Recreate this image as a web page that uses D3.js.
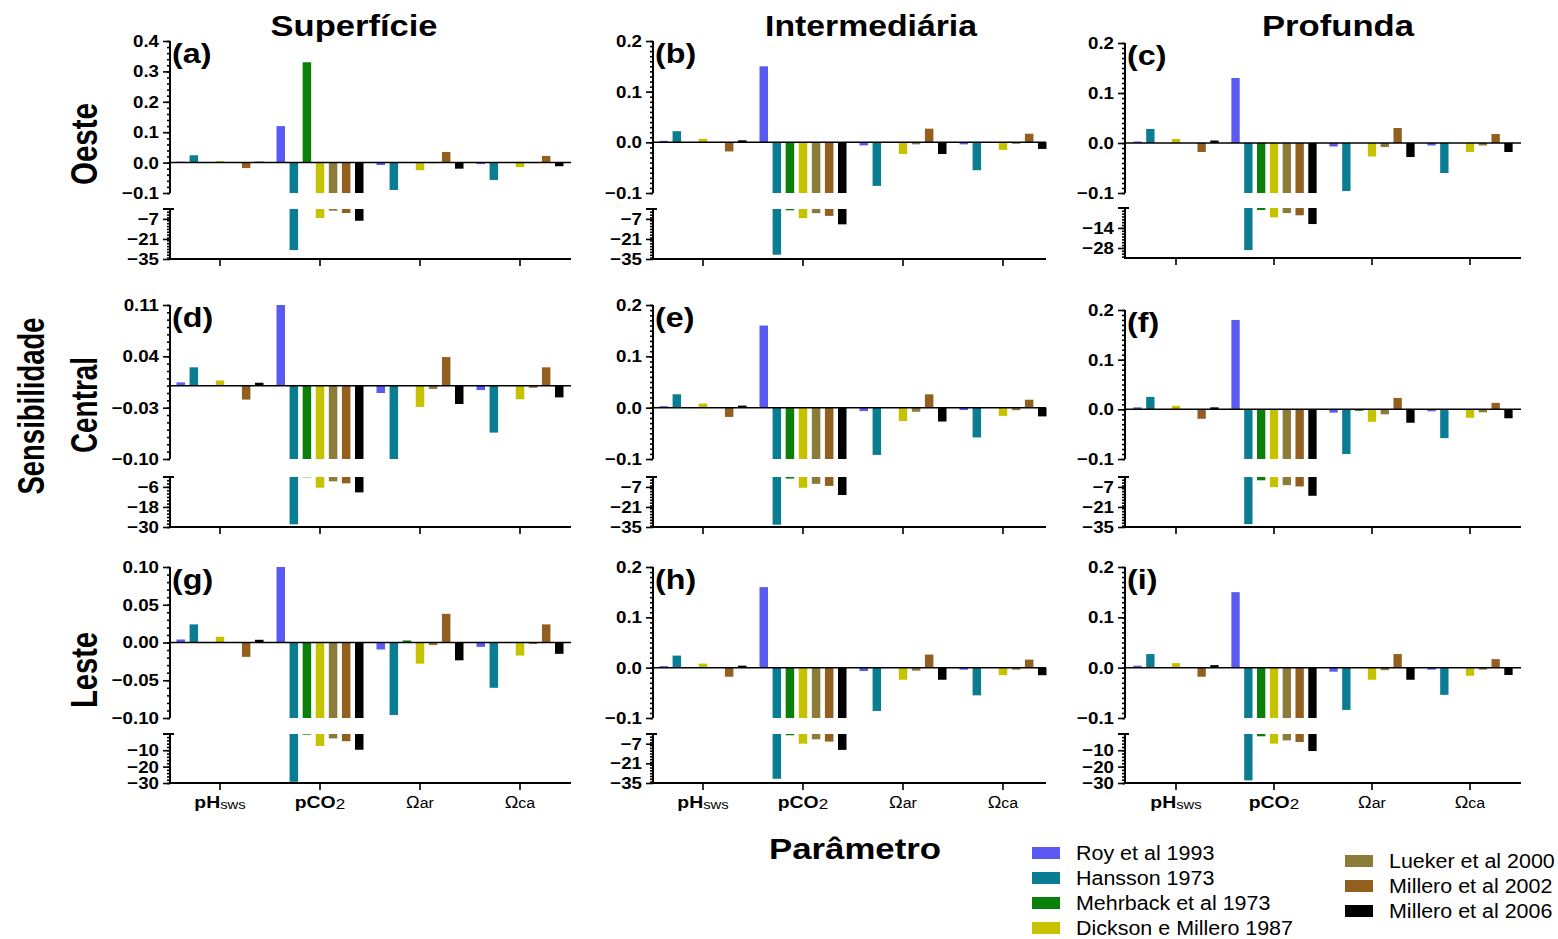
<!DOCTYPE html>
<html>
<head>
<meta charset="utf-8">
<script src="https://cdn.jsdelivr.net/npm/d3@7"></script>
<style>
  body { margin: 0; background: #fff; }
  svg { font-family: "Liberation Sans", Arial, sans-serif; }
</style>
</head>
<body>
<script>
// series, groups and colours
const series = ["Roy et al 1993", "Hansson 1973", "Mehrback et al 1973", "Dickson e Millero 1987",
                "Lueker et al 2000", "Millero et al 2002", "Millero et al 2006"];
const colors = ["#5a5af2", "#0b7d93", "#0a800a", "#c6c200", "#8b7c3a", "#935f1f", "#000000"];
const groups = ["pH", "pCO2", "Oar", "Oca"];
const columnTitles = ["Superfície", "Intermediária", "Profunda"];
const rowTitles = ["Oeste", "Central", "Leste"];

// values per panel: one row per series, columns = pHsws, pCO2, Ωar, Ωca
const panelA = [
    [0.003, 0.12, -0.008, -0.005],
    [0.024, -28.8, -0.09, -0.057],
    [0, 0.33, 0, 0],
    [0.005, -6.4, -0.025, -0.015],
    [0, -1.3, -0.002, -0.002],
    [-0.018, -2.9, 0.035, 0.022],
    [0.003, -8.3, -0.02, -0.012]];
const panelB = [
    [0.003, 0.15, -0.006, -0.004],
    [0.022, -32, -0.086, -0.055],
    [0, -1, 0, 0],
    [0.007, -6.5, -0.023, -0.015],
    [0, -3, -0.004, -0.003],
    [-0.018, -4.9, 0.027, 0.017],
    [0.004, -10.8, -0.023, -0.013]];
const panelC = [
    [0.003, 0.13, -0.007, -0.005],
    [0.028, -29.5, -0.096, -0.06],
    [0, -1.5, 0, 0],
    [0.008, -6.6, -0.027, -0.018],
    [0, -3.6, -0.008, -0.005],
    [-0.018, -5.2, 0.03, 0.018],
    [0.005, -11.3, -0.028, -0.018]];
const panelD = [
    [0.0045, 0.11, -0.01, -0.006],
    [0.025, -28.4, -0.1, -0.064],
    [0, -0.3, 0, 0],
    [0.007, -6.5, -0.029, -0.0185],
    [0, -2.7, -0.0045, -0.003],
    [-0.019, -3.9, 0.039, 0.025],
    [0.004, -9.3, -0.025, -0.016]];
const panelE = [
    [0.003, 0.16, -0.0066, -0.0047],
    [0.026, -33.4, -0.092, -0.058],
    [0, -1.2, 0, 0],
    [0.008, -7.6, -0.026, -0.016],
    [0, -4.9, -0.008, -0.005],
    [-0.018, -6.3, 0.026, 0.0155],
    [0.004, -12.7, -0.027, -0.017]];
const panelF = [
    [0.004, 0.18, -0.0067, -0.004],
    [0.025, -33, -0.09, -0.058],
    [0, -2.4, -0.003, 0],
    [0.007, -7.2, -0.025, -0.017],
    [0, -5.8, -0.01, -0.006],
    [-0.019, -6.7, 0.023, 0.013],
    [0.004, -13.2, -0.027, -0.018]];
const panelG = [
    [0.004, 0.10, -0.0093, -0.0058],
    [0.024, -29.3, -0.096, -0.06],
    [0, -0.5, 0.0027, 0],
    [0.0076, -7.4, -0.028, -0.0173],
    [0, -2.8, -0.0035, -0.002],
    [-0.019, -4.5, 0.038, 0.024],
    [0.0036, -9.7, -0.0236, -0.015]];
const panelH = [
    [0.003, 0.16, -0.0067, -0.004],
    [0.024, -32, -0.086, -0.055],
    [0, -1, 0, 0],
    [0.008, -7, -0.024, -0.015],
    [0, -3.9, -0.006, -0.004],
    [-0.018, -5.5, 0.026, 0.016],
    [0.004, -11.4, -0.024, -0.015]];
const panelI = [
    [0.004, 0.15, -0.008, -0.004],
    [0.027, -28.4, -0.084, -0.054],
    [0, -1.5, 0, 0],
    [0.009, -6, -0.024, -0.016],
    [0, -4, -0.005, -0.004],
    [-0.018, -5, 0.027, 0.017],
    [0.005, -10.5, -0.024, -0.0145]];

// tick labels
const ticksA = [0.4, 0.3, 0.2, 0.1, 0.0, -0.1];
const ticks02 = [0.2, 0.1, 0.0, -0.1];
const ticksD = [0.11, 0.04, -0.03, -0.10];
const ticksG = [0.10, 0.05, 0.00, -0.05, -0.10];
const lowTicks35 = [-7, -21, -35];
const lowTicks28 = [-14, -28];
const lowTicks30a = [-6, -18, -30];
const lowTicks30b = [-10, -20, -30];

// layout
const cols = [
    { x0: 170, band: 170, step: 100, x1: 571 },
    { x0: 653, band: 653, step: 100, x1: 1046 },
    { x0: 1125, band: 1127, step: 98, x1: 1521 }];
const rows = [
    { top: 41, ub: 193, lt: 209, lb: 259 },
    { top: 305, ub: 459, lt: 477, lb: 527 },
    { top: 567, ub: 718, lt: 734, lb: 783 }];

const panels = [
    { label: "(a)", r: 0, c: 0, data: panelA, up: [-0.1, 0.4], ticks: ticksA, minor: 0.02, fmt: ".1f", low: [-35, -0.1], lowTicks: lowTicks35 },
    { label: "(b)", r: 0, c: 1, data: panelB, up: [-0.1, 0.2], ticks: ticks02, minor: 0.01, fmt: ".1f", low: [-35, -0.1], lowTicks: lowTicks35 },
    { label: "(c)", r: 0, c: 2, data: panelC, up: [-0.1, 0.2], ticks: ticks02, minor: 0.01, fmt: ".1f", low: [-35, -0.1], lowTicks: lowTicks28, top: 43, lt: 208, lb: 258 },
    { label: "(d)", r: 1, c: 0, data: panelD, up: [-0.1, 0.11], ticks: ticksD, minor: 0.01, fmt: ".2f", low: [-30, -0.1], lowTicks: lowTicks30a },
    { label: "(e)", r: 1, c: 1, data: panelE, up: [-0.1, 0.2], ticks: ticks02, minor: 0.01, fmt: ".1f", low: [-35, -0.1], lowTicks: lowTicks35 },
    { label: "(f)", r: 1, c: 2, data: panelF, up: [-0.1, 0.2], ticks: ticks02, minor: 0.01, fmt: ".1f", low: [-35, -0.1], lowTicks: lowTicks35, top: 310 },
    { label: "(g)", r: 2, c: 0, data: panelG, up: [-0.1, 0.1], ticks: ticksG, minor: 0.01, fmt: ".2f", low: [-30, -0.1], lowTicks: lowTicks30b },
    { label: "(h)", r: 2, c: 1, data: panelH, up: [-0.1, 0.2], ticks: ticks02, minor: 0.01, fmt: ".1f", low: [-35, -0.1], lowTicks: lowTicks35 },
    { label: "(i)", r: 2, c: 2, data: panelI, up: [-0.1, 0.2], ticks: ticks02, minor: 0.01, fmt: ".1f", low: [-30, -0.1], lowTicks: lowTicks30b }];

const svg = d3.select("body").append("svg")
    .attr("width", 1558)
    .attr("height", 939);

// widen text horizontally (the original uses a broader font)
function stretch(sel, factor) {
    sel.each(function () {
        const w = this.getComputedTextLength();
        d3.select(this)
            .attr("textLength", w * factor)
            .attr("lengthAdjust", "spacingAndGlyphs");
    });
}

function minorValues(lo, hi, step) {
    const n = Math.round((hi - lo) / step);
    return d3.range(n + 1).map(i => +(lo + i * step).toFixed(4));
}

function styleAxis(g) {
    g.selectAll("path.domain").remove();
    g.selectAll(".tick line").attr("stroke", "#000").attr("stroke-width", 1.6);
    g.selectAll(".tick text")
        .attr("font-size", 17)
        .attr("font-weight", "bold")
        .attr("fill", "#000");
    stretch(g.selectAll(".tick text"), 1.1);
}

panels.forEach(p => {
    const col = cols[p.c];
    const row = rows[p.r];
    const top = p.top || row.top;
    const lt = p.lt || row.lt;
    const lb = p.lb || row.lb;
    const g = svg.append("g");

    const yU = d3.scaleLinear().domain(p.up).range([row.ub, top]);
    const yL = d3.scaleLinear().domain(p.low).range([lb, lt]);
    const x0 = d3.scaleBand().domain(groups).range([col.band, col.band + 4 * col.step]);
    const inner = col.step * 0.87;
    const x1 = d3.scaleBand().domain(d3.range(series.length)).range([0, inner]).paddingInner(0.35);
    const off = (col.step - inner) / 2;

    // bars
    groups.forEach((grp, gi) => {
        series.forEach((s, si) => {
            const v = p.data[si][gi];
            const bx = x0(grp) + off + x1(si);
            const vu = Math.max(Math.min(v, p.up[1]), p.up[0]);
            if (vu !== 0) {
                g.append("rect")
                    .attr("x", bx)
                    .attr("width", x1.bandwidth())
                    .attr("y", Math.min(yU(vu), yU(0)))
                    .attr("height", Math.abs(yU(vu) - yU(0)))
                    .attr("fill", colors[si]);
            }
            if (v < p.low[1]) {
                g.append("rect")
                    .attr("x", bx)
                    .attr("width", x1.bandwidth())
                    .attr("y", yL(p.low[1]))
                    .attr("height", yL(v) - yL(p.low[1]))
                    .attr("fill", colors[si]);
            }
        });
    });

    // zero line
    g.append("line")
        .attr("x1", col.x0).attr("x2", col.x1)
        .attr("y1", yU(0)).attr("y2", yU(0))
        .attr("stroke", "#000").attr("stroke-width", 1.5);

    // upper y axis
    g.append("g").attr("transform", `translate(${col.x0},0)`)
        .call(d3.axisLeft(yU).tickValues(minorValues(p.up[0], p.up[1], p.minor)).tickSize(3).tickFormat(""))
        .call(styleAxis);
    g.append("g").attr("transform", `translate(${col.x0},0)`)
        .call(d3.axisLeft(yU).tickValues(p.ticks).tickSize(7).tickPadding(4).tickFormat(d3.format(p.fmt)))
        .call(styleAxis);
    g.append("line")
        .attr("x1", col.x0).attr("x2", col.x0)
        .attr("y1", top).attr("y2", row.ub)
        .attr("stroke", "#000").attr("stroke-width", 2);

    // lower y axis
    g.append("g").attr("transform", `translate(${col.x0},0)`)
        .call(d3.axisLeft(yL).tickValues(d3.range(-2, p.low[0] - 1, -2).filter(v => v >= p.low[0])).tickSize(3).tickFormat(""))
        .call(styleAxis);
    g.append("g").attr("transform", `translate(${col.x0},0)`)
        .call(d3.axisLeft(yL).tickValues(p.lowTicks).tickSize(7).tickPadding(4).tickFormat(d3.format("d")))
        .call(styleAxis);
    g.append("line")
        .attr("x1", col.x0).attr("x2", col.x0)
        .attr("y1", lt).attr("y2", lb)
        .attr("stroke", "#000").attr("stroke-width", 2);
    g.append("line")
        .attr("x1", col.x0 - 7).attr("x2", col.x0 + 4)
        .attr("y1", lt).attr("y2", lt)
        .attr("stroke", "#000").attr("stroke-width", 2);

    // bottom x axis
    const xa = g.append("g").attr("transform", `translate(0,${lb})`)
        .call(d3.axisBottom(x0).tickSize(7).tickFormat(""));
    styleAxis(xa);
    g.append("line")
        .attr("x1", col.x0 - 1).attr("x2", col.x1)
        .attr("y1", lb).attr("y2", lb)
        .attr("stroke", "#000").attr("stroke-width", 2);

    if (p.r === 2) {
        const lab = g.append("g").attr("font-size", 17).attr("fill", "#000");
        const t1 = lab.append("text").attr("x", x0("pH") + col.step / 2).attr("y", 808).attr("text-anchor", "middle");
        t1.append("tspan").attr("font-weight", "bold").text("pH");
        t1.append("tspan").attr("font-size", 13).attr("dy", 1).text("sws");
        const t2 = lab.append("text").attr("x", x0("pCO2") + col.step / 2).attr("y", 808).attr("text-anchor", "middle");
        t2.append("tspan").attr("font-weight", "bold").text("pCO");
        t2.append("tspan").attr("font-size", 15).attr("dy", 1).text("2");
        const t3 = lab.append("text").attr("x", x0("Oar") + col.step / 2).attr("y", 808).attr("text-anchor", "middle");
        t3.append("tspan").attr("font-size", 16).text("Ω");
        t3.append("tspan").attr("font-size", 14).text("ar");
        const t4 = lab.append("text").attr("x", x0("Oca") + col.step / 2).attr("y", 808).attr("text-anchor", "middle");
        t4.append("tspan").attr("font-size", 16).text("Ω");
        t4.append("tspan").attr("font-size", 14).text("ca");
        stretch(lab.selectAll("text"), 1.14);
    }

    // panel label
    const pl = g.append("text")
        .attr("x", col.x0 + 2)
        .attr("y", top + 22)
        .attr("font-size", 28)
        .attr("font-weight", "bold")
        .text(p.label);
    stretch(pl, 1.15);
});

// column titles
const titleX = [354, 871, 1338];
const titleLen = [167, 212, 152];
columnTitles.forEach((t, i) => {
    svg.append("text")
        .attr("x", titleX[i]).attr("y", 36)
        .attr("text-anchor", "middle")
        .attr("font-size", 29)
        .attr("font-weight", "bold")
        .attr("textLength", titleLen[i])
        .attr("lengthAdjust", "spacingAndGlyphs")
        .text(t);
});

// row titles (condensed, rotated)
const rowY = [144, 405, 670];
const rowLen = [82, 96, 76];
rowTitles.forEach((t, i) => {
    svg.append("text")
        .attr("transform", `translate(97,${rowY[i]}) rotate(-90)`)
        .attr("text-anchor", "middle")
        .attr("font-size", 37)
        .attr("font-weight", "bold")
        .attr("textLength", rowLen[i])
        .attr("lengthAdjust", "spacingAndGlyphs")
        .text(t);
});
svg.append("text")
    .attr("transform", "translate(44,406) rotate(-90)")
    .attr("text-anchor", "middle")
    .attr("font-size", 37)
    .attr("font-weight", "bold")
    .attr("textLength", 177)
    .attr("lengthAdjust", "spacingAndGlyphs")
    .text("Sensibilidade");

// x title
svg.append("text")
    .attr("x", 855).attr("y", 859)
    .attr("text-anchor", "middle")
    .attr("font-size", 30)
    .attr("font-weight", "bold")
    .attr("textLength", 172)
    .attr("lengthAdjust", "spacingAndGlyphs")
    .text("Parâmetro");

// legend
const legend = svg.append("g");
series.forEach((s, i) => {
    const lx = i < 4 ? 1032 : 1345;
    const ly = i < 4 ? 853 + i * 25 : 861 + (i - 4) * 25;
    legend.append("rect")
        .attr("x", lx).attr("y", ly - 6)
        .attr("width", 28).attr("height", 12)
        .attr("fill", colors[i]);
    legend.append("text")
        .attr("x", lx + 44).attr("y", ly + 6.5)
        .attr("font-size", 19.5)
        .text(s);
});
stretch(legend.selectAll("text"), 1.1);
</script>
</body>
</html>
